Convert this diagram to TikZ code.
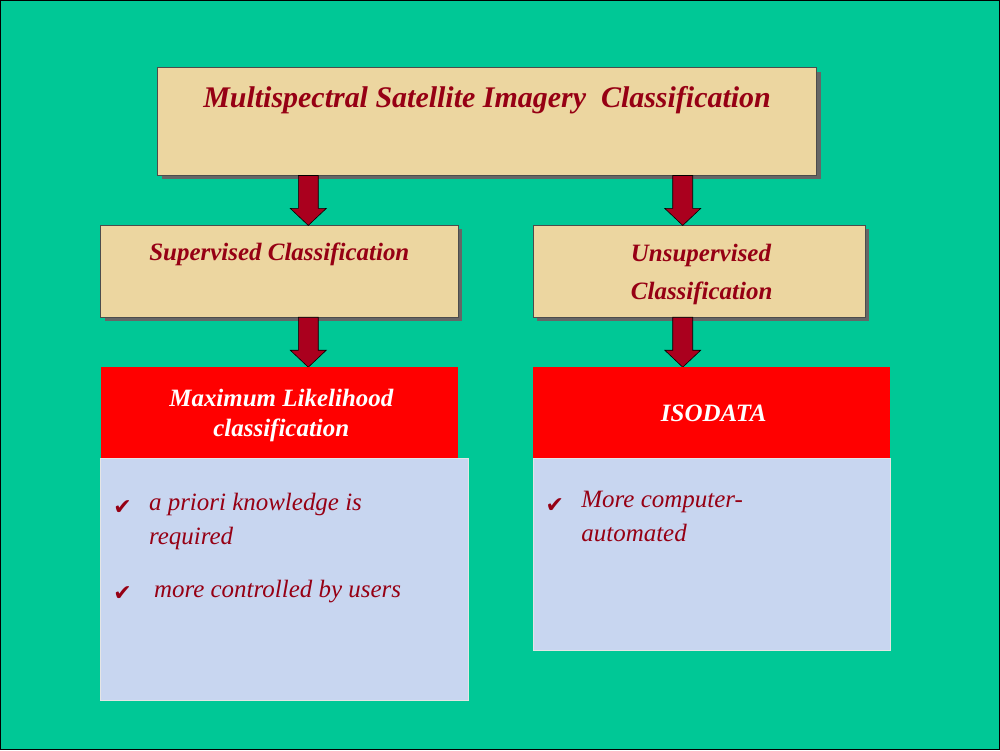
\documentclass[tikz,border=0pt]{standalone}
\usepackage{fontspec}
\setmainfont{Liberation Serif}
\newfontfamily\sym{DejaVu Sans}
\usetikzlibrary{calc}
\definecolor{bg}{RGB}{0,200,150}
\definecolor{tan}{RGB}{236,214,160}
\definecolor{dred}{RGB}{150,0,20}
\definecolor{lblue}{RGB}{200,214,240}
\definecolor{ared}{RGB}{170,0,30}
\begin{document}
\begin{tikzpicture}[x=1pt,y=-1pt,
 tanbox/.style={draw=black!70,fill=tan,inner sep=0pt},
 redbox/.style={fill=red,inner sep=0pt},
 bluebox/.style={fill=lblue,draw=white!80!gray,inner sep=0pt},
 ttl/.style={text=dred,font=\bfseries\itshape},
 wt/.style={text=white,font=\bfseries\itshape\fontsize{25}{30}\selectfont,align=center},
 bul/.style={text=dred,font=\itshape\fontsize{25}{34}\selectfont,align=left,anchor=north west}]
\fill[bg] (0,0) rectangle (1000,750);
\draw[black,line width=1.5pt] (0,0) rectangle (1000,750);
\newcommand\barrow[3]{\fill[ared,draw=black,line width=0.6pt] (#1-10,#2)--(#1+10,#2)--(#1+10,#3-17)--(#1+18,#3-17)--(#1,#3)--(#1-18,#3-17)--(#1-10,#3-17)--cycle;}
% shadows
\fill[black!60] (161,71) rectangle (821,179);
\fill[black!60] (104,229) rectangle (462,321);
\fill[black!60] (537,229) rectangle (870,321);
\node[tanbox,minimum width=660,minimum height=108] (t) at (487,121) {};
\node[ttl,font=\bfseries\itshape\fontsize{30}{34}\selectfont] at (487,100) {Multispectral Satellite Imagery\ \ Classification};
\node[tanbox,minimum width=358,minimum height=92] (s) at (279,271) {};
\node[ttl,font=\bfseries\itshape\fontsize{25}{30}\selectfont] at (279,254) {Supervised Classification};
\node[tanbox,minimum width=333,minimum height=92] (u) at (699.5,271) {};
\node[ttl,font=\bfseries\itshape\fontsize{25}{38}\selectfont,align=left] at (702,274) {Unsupervised\\Classification};
\barrow{308}{175}{225}
\barrow{683}{175}{225}
\barrow{308}{317}{367}
\barrow{683}{317}{367}
\node[redbox,minimum width=358,minimum height=91] (m) at (279,412.5) {};
\node[wt] at (281,415) {Maximum Likelihood\\classification};
\node[redbox,minimum width=358,minimum height=91] (i) at (712,412.5) {};
\node[wt] at (714,413) {ISODATA};
\node[bluebox,minimum width=368,minimum height=242] (b1) at (284,579) {};
\node[bluebox,minimum width=358,minimum height=192] (b2) at (712,554) {};
\node[text=dred,font=\sym\fontsize{22}{22}\selectfont] at (122,508) {✔};
\node[text=dred,font=\sym\fontsize{22}{22}\selectfont] at (122,594) {✔};
\node[text=dred,font=\sym\fontsize{22}{22}\selectfont] at (555,506) {✔};
\node[bul] at (145,490) {a priori knowledge is\\required};
\node[bul] at (150,577) {more controlled by users};
\node[bul] at (578,488) {More computer-\\automated};
\end{tikzpicture}
\end{document}
